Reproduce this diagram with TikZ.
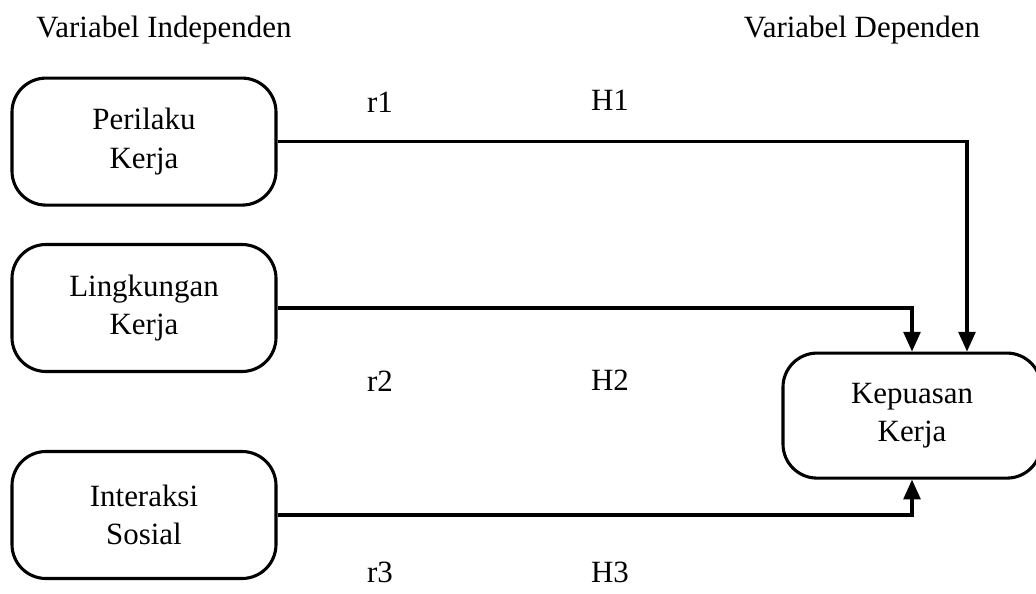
\documentclass[tikz,border=0pt]{standalone}
\usepackage{fontspec}
\setmainfont{Liberation Serif}
\usetikzlibrary{positioning, arrows.meta}

\tikzset{
  varbox/.style={draw, line width=2.2pt, rounded corners=0.85cm, align=center,
    minimum width=6.6cm, minimum height=3.175cm, font=\fontsize{22}{27.6}\selectfont},
  lbl/.style={font=\fontsize{22}{26}\selectfont},
  link/.style={line width=2.2pt, -{Triangle[length=14pt,width=12pt]}}
}

\begin{document}
\begin{tikzpicture}
\useasboundingbox (0,0) rectangle (25.9,-14.85);

\node[lbl] (judulx) at (4.1,-0.75) {Variabel Independen};
\node[lbl] (juduly) at (21.55,-0.75) {Variabel Dependen};

\node[varbox] (perilaku) at (3.6,-3.54) {Perilaku\\Kerja};
\node[varbox] (lingkungan) at (3.6,-7.7) {Lingkungan\\Kerja};
\node[varbox] (interaksi) at (3.6,-12.875) {Interaksi\\Sosial};
\node[varbox, minimum width=6.45cm, minimum height=3.125cm] (kepuasan) at (22.8,-10.39) {Kepuasan\\Kerja};

\draw[link] (perilaku.east) -| ([xshift=1.375cm]kepuasan.north);
\draw[link] (lingkungan.east) -| (kepuasan.north);
\draw[link] (interaksi.east) -| (kepuasan.south);

\node[lbl] (r1) at (9.5,-2.55) {r1};
\node[lbl] (h1) at (15.25,-2.5) {H1};
\node[lbl] (r2) at (9.5,-9.525) {r2};
\node[lbl] (h2) at (15.25,-9.5) {H2};
\node[lbl] (r3) at (9.5,-14.3) {r3};
\node[lbl] (h3) at (15.25,-14.3) {H3};
\end{tikzpicture}
\end{document}
